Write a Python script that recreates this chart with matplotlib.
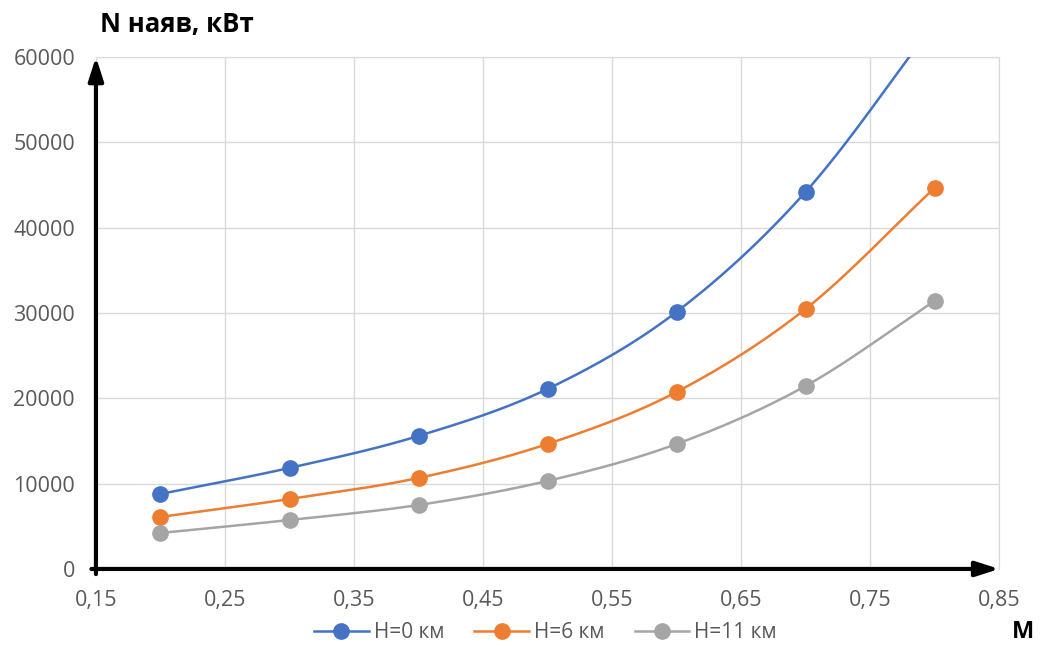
import numpy as np
import matplotlib
matplotlib.use("Agg")
import matplotlib.pyplot as plt
from matplotlib.ticker import FuncFormatter, MultipleLocator

M = [0.2, 0.3, 0.4, 0.5, 0.6, 0.7, 0.8]
N_h0 = [8790, 11840, 15590, 21100, 30130, 44200, 64000]
N_h6 = [6100, 8200, 10670, 14650, 20750, 30480, 44670]
N_h11 = [4220, 5740, 7500, 10320, 14650, 21450, 31420]
labels = ["H=0 км", "H=6 км", "H=11 км"]
colors = ["#4472C4", "#ED7D31", "#A5A5A5"]


def smooth(x, y, n=30):
    # Catmull-Rom style smoothing (like Excel smoothed line)
    x = np.asarray(x, float)
    y = np.asarray(y, float)
    px = np.concatenate([[2 * x[0] - x[1]], x, [2 * x[-1] - x[-2]]])
    py = np.concatenate([[2 * y[0] - y[1]], y, [2 * y[-1] - y[-2]]])
    xs, ys = [], []
    t = np.linspace(0, 1, n)
    for i in range(1, len(px) - 2):
        p0, p1, p2, p3 = [np.array([px[j], py[j]]) for j in range(i - 1, i + 3)]
        c1 = p1 + (p2 - p0) / 6
        c2 = p2 - (p3 - p1) / 6
        pts = ((1 - t) ** 3)[:, None] * p1 + (3 * (1 - t) ** 2 * t)[:, None] * c1 \
            + (3 * (1 - t) * t ** 2)[:, None] * c2 + (t ** 3)[:, None] * p2
        xs.extend(pts[:, 0])
        ys.extend(pts[:, 1])
    return np.array(xs), np.array(ys)


fig = plt.figure(figsize=(10.43, 6.47), dpi=100)
ax = fig.add_axes([0.092, 0.1206, 0.866, 0.7913])

handles = []
for y, c, lab in zip([N_h0, N_h6, N_h11], colors, labels):
    sx, sy = smooth(M, y)
    ax.plot(sx, sy, color=c, lw=1.8, zorder=3)
    ax.plot(M, y, 'o', color=c, ms=11, zorder=4)
    h, = ax.plot([], [], '-o', color=c, lw=1.8, ms=11, label=lab)
    handles.append(h)

ax.set_xlim(0.15, 0.85)
ax.set_ylim(0, 60000)
ax.yaxis.set_major_locator(MultipleLocator(10000))
ax.set_xticks([0.15, 0.25, 0.35, 0.45, 0.55, 0.65, 0.75, 0.85])
ax.xaxis.set_major_formatter(FuncFormatter(lambda v, p: f"{v:.2f}".replace('.', ',')))
ax.yaxis.set_major_formatter(FuncFormatter(lambda v, p: f"{int(round(v))}"))
ax.grid(True, color="#D9D9D9", lw=1)
ax.set_axisbelow(True)
for s in ["top", "right"]:
    ax.spines[s].set_color("#D9D9D9")
for s in ["left", "bottom"]:
    ax.spines[s].set_visible(False)
ax.tick_params(length=0, labelsize=15.5, colors="#595959")
ax.tick_params(axis="x", pad=15)
ax.tick_params(axis="y", pad=15)
for lab in ax.get_xticklabels() + ax.get_yticklabels():
    lab.set_fontfamily("Open Sans")

# axis arrows
ax.annotate("", xy=(0.0, 1.0), xytext=(0.0, -0.01), xycoords="axes fraction",
            arrowprops=dict(arrowstyle="-|>,head_length=1.4,head_width=0.45", color="black", lw=3,
                            shrinkA=0, shrinkB=0), annotation_clip=False)
ax.annotate("", xy=(1.0, 0.0), xytext=(-0.005, 0.0), xycoords="axes fraction",
            arrowprops=dict(arrowstyle="-|>,head_length=1.4,head_width=0.45", color="black", lw=3,
                            shrinkA=0, shrinkB=0), annotation_clip=False)

fig.text(0.096, 0.962, "N наяв, кВт", fontsize=18.5, fontweight="bold", ha="left", va="center",
         family="Open Sans")
fig.text(0.981, 0.023, "M", fontsize=17, fontweight="bold", ha="center", va="center",
         family="Open Sans")

leg = fig.legend(handles=handles, loc="center", bbox_to_anchor=(0.523, 0.022), ncol=3,
                 frameon=False, fontsize=15, handlelength=2.6, columnspacing=1.45,
                 handletextpad=0.25, borderpad=0.1)
for t in leg.get_texts():
    t.set_color("#595959")
    t.set_fontfamily("Open Sans")

fig.savefig("out.png", dpi=100)
